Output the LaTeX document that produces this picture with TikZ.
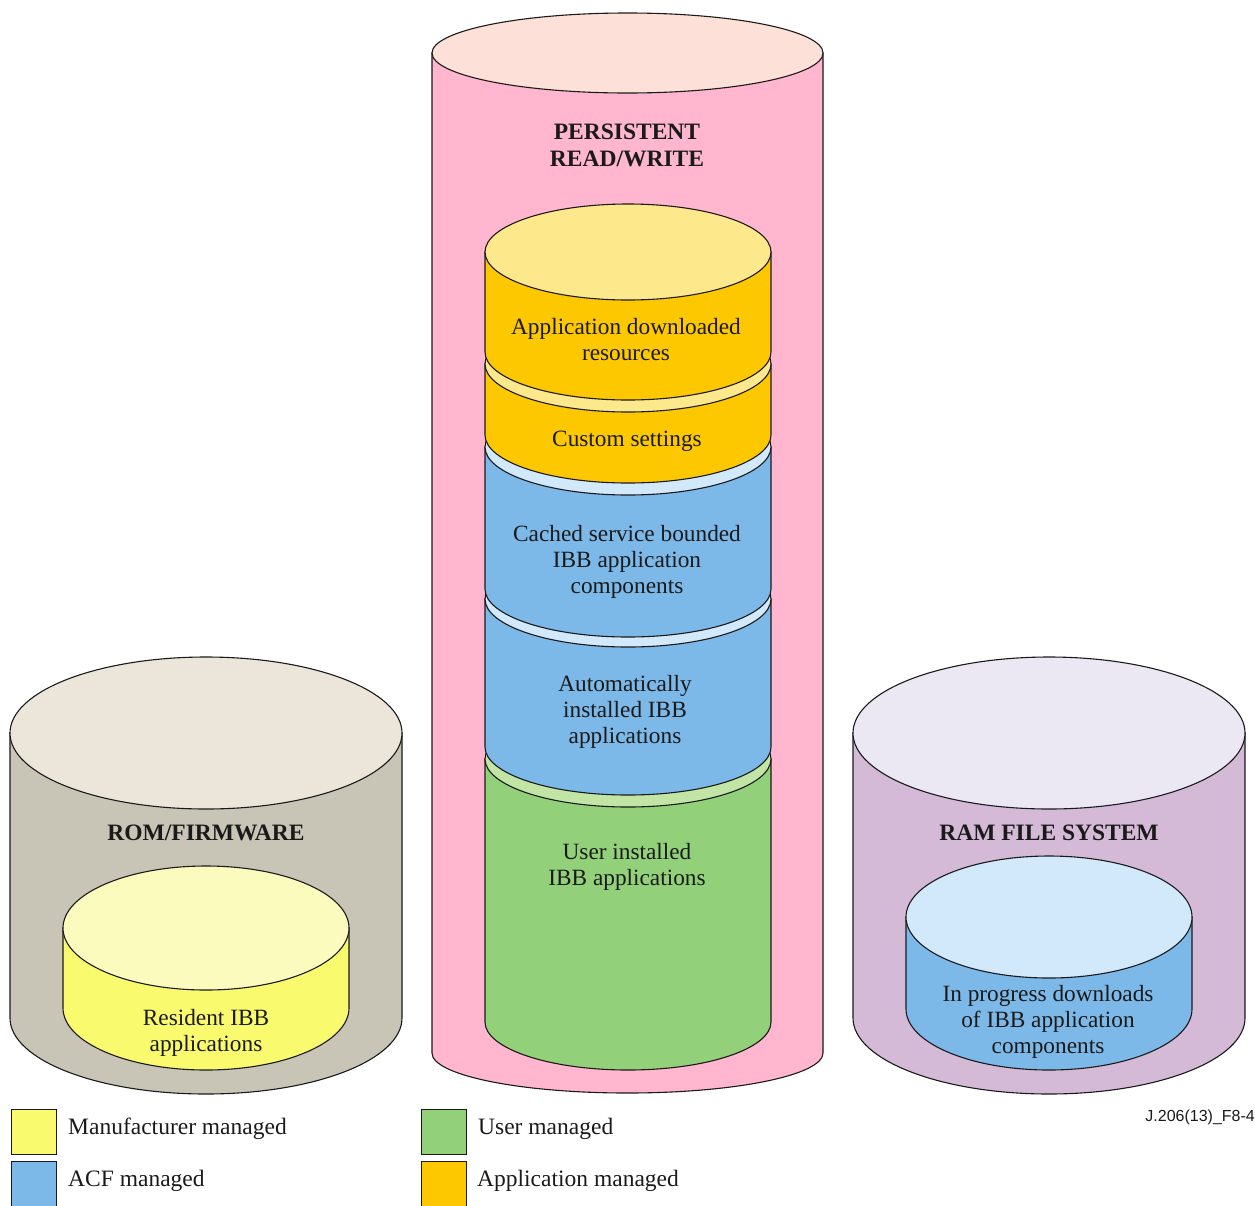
\documentclass[tikz,border=0pt]{standalone}
\usepackage{fontspec}
\setmainfont{Liberation Serif}
\newfontfamily\labelsans{Liberation Sans}
\definecolor{inkc}{HTML}{1A1A1A}
\definecolor{pinkbody}{HTML}{FFB6CE}
\definecolor{pinktop}{HTML}{FDE0D7}
\definecolor{graybody}{HTML}{C8C4B6}
\definecolor{graytop}{HTML}{EBE6D9}
\definecolor{lilacbody}{HTML}{D5BAD8}
\definecolor{lilactop}{HTML}{EBE8F3}
\definecolor{orangebody}{HTML}{FDC800}
\definecolor{orangetop}{HTML}{FDE98B}
\definecolor{bluebody}{HTML}{7CB8E8}
\definecolor{bluetop}{HTML}{D2E8FB}
\definecolor{greenbody}{HTML}{92D17A}
\definecolor{greentop}{HTML}{C2E5A5}
\definecolor{yellowbody}{HTML}{FAFA6E}
\definecolor{yellowtop}{HTML}{FAFBBD}

% cylinder: centre x, half width, top centre y, bottom centre y, radius y, body colour, top colour
\newcommand{\drumshape}[7]{%
  \filldraw[line width=1.1pt, draw=inkc, fill=#6]
    (#1-#2,#3) -- (#1-#2,#4) arc[start angle=180, end angle=0, x radius=#2, y radius=#5]
    -- (#1+#2,#3) -- cycle;
  \filldraw[line width=1.1pt, draw=inkc, fill=#7] (#1,#3) ellipse[x radius=#2, y radius=#5];
}

\tikzset{
  title/.style={font=\fontsize{23.5}{27}\selectfont\bfseries, text=inkc, align=center, inner sep=0pt},
  body/.style={font=\fontsize{23.3}{26}\selectfont, text=inkc, align=center, inner sep=0pt},
  legendbox/.style={draw=inkc, line width=1.1pt, minimum width=45pt, minimum height=45pt, inner sep=0pt, anchor=north west},
  legendtext/.style={font=\fontsize{23.5}{26}\selectfont, text=inkc, anchor=west, inner sep=0pt}
}

\begin{document}
\begin{tikzpicture}[x=1pt,y=-1pt]
\useasboundingbox (0,0) rectangle (1255,1205);

% storage containers
\drumshape{206}{196}{733}{1018}{76}{graybody}{graytop}
\drumshape{1049}{196}{733}{1018}{76}{lilacbody}{lilactop}
\drumshape{627.5}{195.5}{53}{1053}{40}{pinkbody}{pinktop}

% contents of the ROM and RAM stores
\drumshape{206}{143}{928}{1008}{62}{yellowbody}{yellowtop}
\drumshape{1049}{143}{917}{1009}{61}{bluebody}{bluetop}

% persistent store: stacked layers, drawn bottom up
\drumshape{628}{143}{759}{1022}{48}{greenbody}{greentop}
\drumshape{628}{143}{599}{747}{48}{bluebody}{bluetop}
\drumshape{628}{143}{447}{589}{48}{bluebody}{bluetop}
\drumshape{628}{143}{364}{435}{48}{orangebody}{orangetop}
\drumshape{628}{143}{252}{352}{48}{orangebody}{orangetop}

% titles
\node[title] (persist) at (627,145) {PERSISTENT\\READ/WRITE};
\node[title] (rom) at (206,833) {ROM/FIRMWARE};
\node[title] (ram) at (1049,833) {RAM FILE SYSTEM};

% layer labels
\node[body] (appres) at (626,340) {Application downloaded\\resources};
\node[body] (custom) at (627,441) {Custom settings};
\node[body] (cached) at (627,562) {Cached service bounded\\IBB application\\components};
\node[body] (auto) at (625,712) {Automatically\\installed IBB\\applications};
\node[body] (user) at (627,867) {User installed\\IBB applications};
\node[body] (resident) at (206,1033) {Resident IBB\\applications};
\node[body] (progress) at (1048,1022) {In progress downloads\\of IBB application\\components};

% legend
\node[legendbox, fill=yellowbody] (kman) at (11,1109) {};
\node[legendbox, fill=bluebody] (kacf) at (11,1161) {};
\node[legendbox, fill=greenbody] (kuser) at (421,1109) {};
\node[legendbox, fill=orangebody] (kapp) at (421,1161) {};
\node[legendtext] (tman) at (68,1129) {Manufacturer managed};
\node[legendtext] (tacf) at (68,1181) {ACF managed};
\node[legendtext] (tuser) at (478,1129) {User managed};
\node[legendtext] (tapp) at (477,1181) {Application managed};

% figure reference
\node[font=\labelsans\fontsize{16}{18}\selectfont, text=inkc, anchor=east, inner sep=0pt] (figref) at (1255,1117) {J.206(13)\_F8-4};
\end{tikzpicture}
\end{document}
